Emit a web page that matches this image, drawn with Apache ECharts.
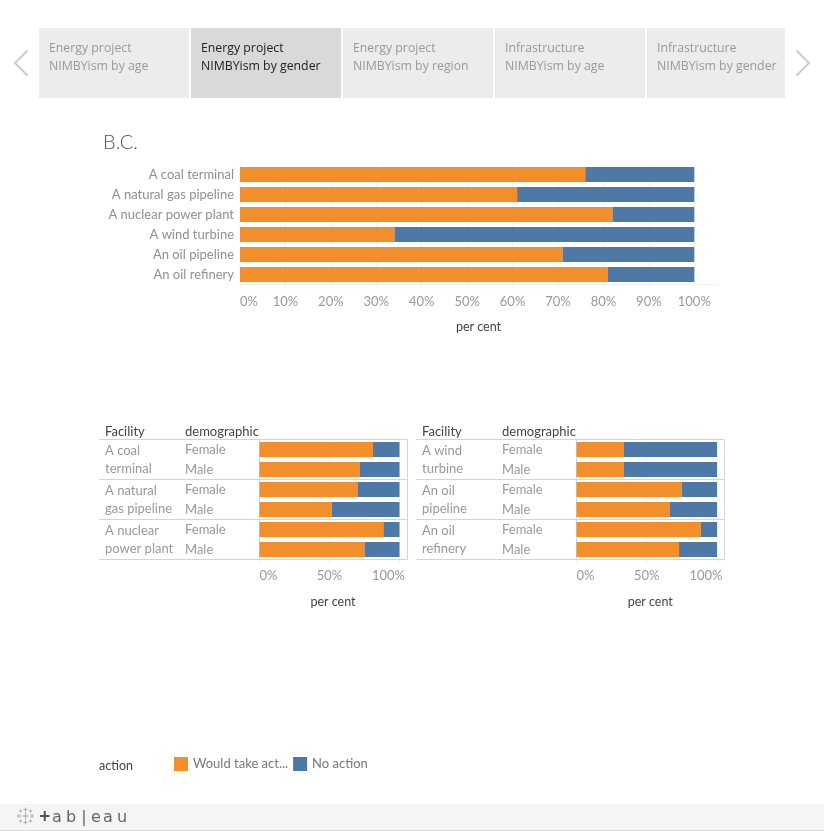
<!DOCTYPE html>
<html><head><meta charset="utf-8">
<style>html,body{margin:0;padding:0;background:#fff}#c{width:824px;height:831px}</style>
<script src="https://cdn.jsdelivr.net/npm/echarts@6/dist/echarts.min.js"></script>
</head><body><div id="c"></div>
<script>
const navTop=['Energy project','Energy project','Energy project','Infrastructure','Infrastructure'];
const navBottom=['NIMBYism by age','NIMBYism by gender','NIMBYism by region','NIMBYism by age','NIMBYism by gender'];
const facilities=['A coal terminal','A natural gas pipeline','A nuclear power plant','A wind turbine','An oil pipeline','An oil refinery'];
const bcAction=[76,61,82,34,71,81];
const bcNoAction=[24,39,18,66,29,19];
const demographics=['Female','Male','Female','Male','Female','Male'];
const leftFacilities=['A coal\nterminal','A natural\ngas pipeline','A nuclear\npower plant'];
const leftAction=[81,71.5,70,51.5,88.5,75];
const leftNoAction=[19,28.5,30,48.5,11.5,25];
const rightFacilities=['A wind\nturbine','An oil\npipeline','An oil\nrefinery'];
const rightAction=[33.5,33.5,75,66.5,88.5,73];
const rightNoAction=[66.5,66.5,25,33.5,11.5,27];
const topTicks=[0,10,20,30,40,50,60,70,80,90,100];
const lowTicks=[0,50,100];
const seriesNames=['Would take action','No action'];
const legendText={'Would take action':'Would take act...','No action':'No action'};
const colors=['#f28e2b','#4e79a7'];

const FONT='Lato, "Open Sans", sans-serif';
const NAVFONT='"Open Sans", "Noto Sans", sans-serif';
const chart=echarts.init(document.getElementById('c'),null,{renderer:'canvas'});

function xAxis(gridIndex,ticks,squeeze){
  return {type:'value',gridIndex,min:0,max:105,
    axisLine:{show:true,lineStyle:{color:squeeze?'#d4d4d4':'#f0f0f0',width:1}},
    axisTick:{show:true,length:3,customValues:ticks,lineStyle:{color:'#eeeeee'}},
    splitLine:{show:true,lineStyle:{color:'#f0f0f0',width:1}},
    axisLabel:{customValues:ticks,alignMinLabel:'left',margin:squeeze?10:11,color:'#999',fontFamily:FONT,fontSize:13,
      formatter:v=>squeeze&&v===100?'{r|'+v+'%}':v+'%',
      rich:{r:{padding:[0,22,0,0],color:'#999',fontFamily:FONT,fontSize:13}}},
    name:'per cent',nameLocation:'middle',nameGap:36,
    nameTextStyle:{color:'#444',fontFamily:FONT,fontSize:12.5}};
}
const grids=[
  {left:240,top:164.5,width:477,height:120},
  {left:259.5,top:439.5,width:147,height:120},
  {left:576.5,top:439.5,width:147.5,height:120}
];
const xAxes=[xAxis(0,topTicks,false),xAxis(1,lowTicks,true),xAxis(2,lowTicks,true)];
const catBase={type:'category',inverse:true,axisTick:{show:false}};
const yAxes=[
  Object.assign({},catBase,{gridIndex:0,data:facilities,axisLine:{show:true,lineStyle:{color:'#f0f0f0'}},
    axisLabel:{margin:6,padding:[2,0,0,0],color:'#909090',fontFamily:FONT,fontSize:13}}),
  Object.assign({},catBase,{gridIndex:1,data:demographics.map((d,i)=>({value:i+':'+d})),axisLine:{show:true,lineStyle:{color:'#d4d4d4'}},
    axisLabel:{margin:74.5,padding:[2,0,0,0],align:'left',color:'#999',fontFamily:FONT,fontSize:13,interval:0,formatter:v=>v.split(':')[1]}}),
  Object.assign({},catBase,{gridIndex:1,data:leftFacilities,position:'left',axisLine:{show:false},
    axisLabel:{margin:154.5,align:'left',lineHeight:18,color:'#999',fontFamily:FONT,fontSize:13,interval:0}}),
  Object.assign({},catBase,{gridIndex:2,data:demographics.map((d,i)=>({value:i+':'+d})),axisLine:{show:true,lineStyle:{color:'#d4d4d4'}},
    axisLabel:{margin:74.5,padding:[2,0,0,0],align:'left',color:'#999',fontFamily:FONT,fontSize:13,interval:0,formatter:v=>v.split(':')[1]}}),
  Object.assign({},catBase,{gridIndex:2,data:rightFacilities,position:'left',axisLine:{show:false},
    axisLabel:{margin:154.5,align:'left',lineHeight:18,color:'#999',fontFamily:FONT,fontSize:13,interval:0}})
];
function bars(x,y,a,b){
  return [a,b].map((d,i)=>({type:'bar',name:seriesNames[i],xAxisIndex:x,yAxisIndex:y,stack:'s'+x,data:d,barWidth:15,
    itemStyle:{color:colors[i]},silent:true,animation:false}));
}
const series=[...bars(0,0,bcAction,bcNoAction),...bars(1,1,leftAction,leftNoAction),...bars(2,3,rightAction,rightNoAction)];

const g=[];
const text=(t,x,y,fill,font,extra)=>g.push({type:'text',x,y,z:10,style:Object.assign({text:t,fill,font,textVerticalAlign:'middle'},extra||{})});
const line=(x1,y1,x2,y2,c,w)=>g.push({type:'line',z:5,shape:{x1,y1,x2,y2},style:{stroke:c,lineWidth:w||1}});
// tab strip
const tabX=[39,191,343,495,647], tabW=[150,150,150,150,138];
tabX.forEach((x,i)=>{
  const on=i===1;
  g.push({type:'rect',z:1,shape:{x,y:28,width:tabW[i],height:70},style:{fill:on?'#d9d9d9':'#ececec'}});
  text(navTop[i],x+10,48,on?'#222':'#999','12.3px '+NAVFONT);
  text(navBottom[i],x+10,66,on?'#222':'#999','12.3px '+NAVFONT);
});
g.push({type:'polyline',z:5,shape:{points:[[27.5,50.5],[15,63],[27.5,75.5]]},style:{stroke:'#ccc',lineWidth:2,fill:'none'}});
g.push({type:'polyline',z:5,shape:{points:[[796.5,50.5],[809,63],[796.5,75.5]]},style:{stroke:'#ccc',lineWidth:2,fill:'none'}});
text('B.C.',103,143,'#555','300 20px '+FONT);
// table frames
[[99,407.5,105,185],[416,724.5,422,502]].forEach(([a,b,t1,t2])=>{
  text('Facility',t1,431.5,'#444','13px '+FONT);
  text('demographic',t2,431.5,'#444','13px '+FONT);
  [439.5,479.5,519.5,559.5].forEach(y=>line(a,y,b,y,'#d4d4d4'));
  line(b,439.5,b,559.5,'#d4d4d4');
});
text('action',99,765.5,'#444','12.5px '+FONT);
// footer
g.push({type:'rect',z:1,shape:{x:0,y:804,width:824,height:26},style:{fill:'#f5f5f5'}});
line(0,830.5,824,830.5,'#d8d8d8');
[[25.5,816,3.5],[25.5,809.5,2],[25.5,822.5,2],[19,816,2],[32,816,2],[20.5,811,1.5],[30.5,811,1.5],[20.5,821,1.5],[30.5,821,1.5]].forEach(([x,y,r])=>{
  line(x-r,y,x+r,y,'#a8acb0');line(x,y-r,x,y+r,'#a8acb0');
});
line(40,816,49.5,816,'#555',2);line(44.75,811,44.75,821,'#555',2);
[['a',57],['b',71],['|',84],['e',96],['a',108],['u',122]].forEach(([c,x])=>text(c,x,818,'#666','16px "DejaVu Sans", sans-serif',{textAlign:'center'}));

chart.setOption({
  animation:false,
  grid:grids,xAxis:xAxes,yAxis:yAxes,series,graphic:g,
  legend:{show:true,left:174,top:757,orient:'horizontal',padding:0,itemWidth:14,itemHeight:14,itemGap:5,icon:'rect',
    data:seriesNames,selectedMode:false,formatter:n=>legendText[n],
    textStyle:{color:'#777',fontFamily:FONT,fontSize:13,padding:[3,0,0,0]}}
});
</script></body></html>
